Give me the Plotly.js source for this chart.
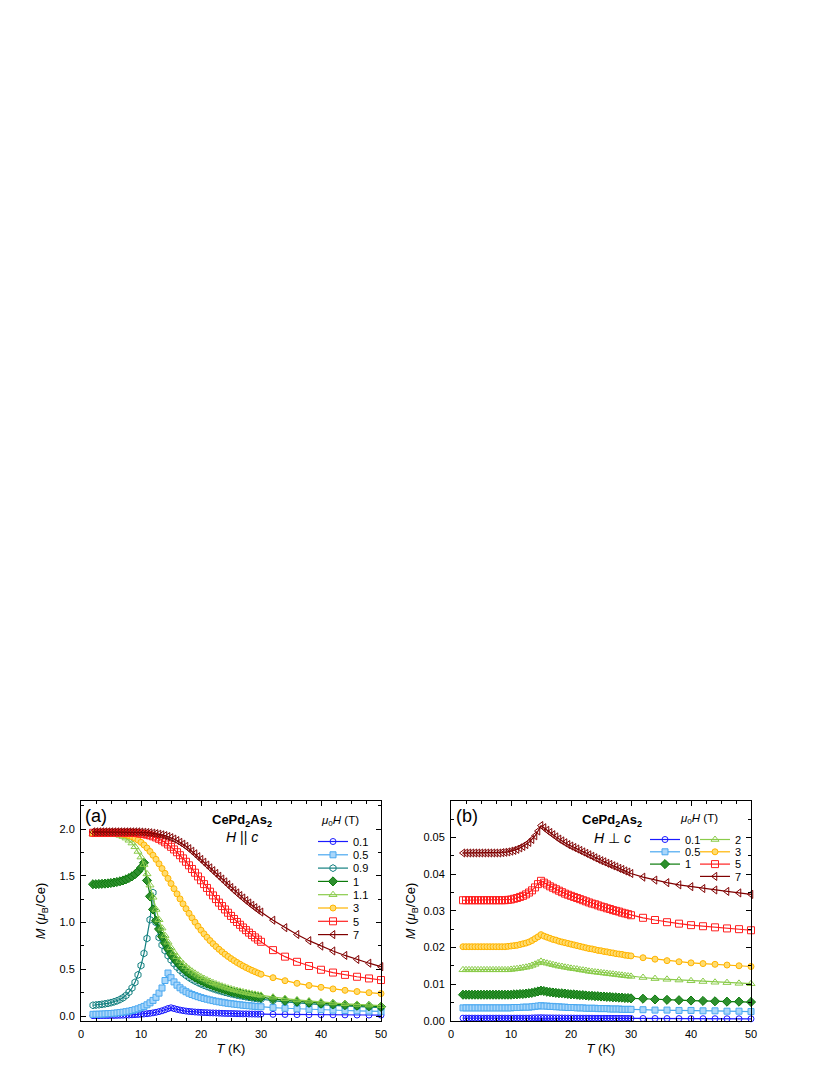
<!DOCTYPE html>
<html>
<head>
<meta charset="utf-8">
<script src="https://cdn.plot.ly/plotly-3.0.1.min.js"></script>
<style>
  html, body { margin: 0; padding: 0; background: #ffffff; }
  #grafico { width: 830px; height: 1075px; }
</style>
</head>
<body>
<div id="grafico"></div>
<script>
// --- 1. DATOS ---
// temperatura común: densa hasta 29.5 K, luego cada 2 K
const tempK = [2,2.5,3,3.5,4,4.5,5,5.5,6,6.5,7,7.5,8,8.5,9,9.5,10,10.5,11,11.5,12,12.5,13,13.5,14,14.5,
  15,15.5,16,16.5,17,17.5,18,18.5,19,19.5,20,20.5,21,21.5,22,22.5,23,23.5,24,24.5,25,25.5,26,26.5,27,27.5,28,28.5,29,29.5,
  30,32,34,36,38,40,42,44,46,48,50];

// (a) H || c
const camposA = ['0.1', '0.5', '0.9', '1', '1.1', '3', '5', '7'];
const mPar01 = [0.004,0.004,0.004,0.005,0.005,0.005,0.006,0.006,0.007,0.008,0.009,0.01,0.011,0.013,0.015,0.017,
  0.019,0.022,0.025,0.029,0.034,0.04,0.047,0.056,0.067,0.08,
  0.088,0.08,0.071,0.064,0.058,0.053,0.049,0.046,0.043,0.041,
  0.039,0.037,0.036,0.034,0.033,0.032,0.031,0.029,0.028,0.027,
  0.027,0.026,0.025,0.024,0.023,0.023,0.022,0.021,0.021,0.02,
  0.02,0.018,0.017,0.015,0.014,0.013,0.013,0.012,0.011,0.011,0.01];
const mPar05 = [0.018,0.019,0.02,0.021,0.023,0.025,0.027,0.03,0.033,0.037,0.041,0.046,0.052,0.059,0.067,0.077,
  0.089,0.103,0.12,0.141,0.167,0.2,0.245,0.3,0.38,0.46,
  0.41,0.365,0.33,0.302,0.279,0.26,0.244,0.23,0.218,0.207,
  0.197,0.188,0.18,0.172,0.165,0.158,0.152,0.147,0.141,0.136,
  0.132,0.128,0.124,0.12,0.116,0.113,0.11,0.107,0.104,0.101,
  0.099,0.09,0.083,0.077,0.072,0.067,0.063,0.059,0.056,0.053,0.05];
const mPar09 = [0.115,0.118,0.121,0.125,0.13,0.136,0.143,0.152,0.163,0.177,0.195,0.22,0.255,0.3,0.36,0.44,
  0.54,0.67,0.83,1.03,1.32,1.0,0.84,0.76,0.7,0.645,
  0.6,0.56,0.523,0.49,0.46,0.435,0.412,0.392,0.374,0.358,
  0.343,0.329,0.316,0.304,0.293,0.282,0.272,0.263,0.254,0.246,
  0.238,0.231,0.224,0.218,0.212,0.206,0.2,0.195,0.19,0.185,
  0.18,0.165,0.152,0.14,0.13,0.122,0.114,0.107,0.101,0.096,0.09];
const mPar1 = [1.41,1.41,1.412,1.414,1.416,1.419,1.423,1.428,1.434,1.441,1.45,1.462,1.476,1.494,1.516,1.545,
  1.585,1.64,1.45,1.28,1.14,1.02,0.93,0.85,0.78,0.72,
  0.665,0.62,0.58,0.543,0.51,0.482,0.457,0.435,0.415,0.397,
  0.38,0.365,0.35,0.337,0.324,0.312,0.301,0.291,0.281,0.272,
  0.263,0.255,0.247,0.24,0.233,0.227,0.221,0.215,0.21,0.205,
  0.2,0.183,0.168,0.156,0.145,0.135,0.127,0.119,0.112,0.106,0.1];
const mPar11 = [1.95,1.95,1.95,1.95,1.95,1.95,1.95,
  1.945,1.94,1.932,1.92,1.903,1.88,1.85,1.81,1.76,
  1.70,1.62,1.52,1.40,1.27,1.14,1.03,0.94,0.86,0.79,
  0.73,0.68,0.635,0.595,0.56,0.53,0.503,0.479,0.457,0.437,
  0.418,0.401,0.385,0.37,0.356,0.343,0.331,0.32,0.309,0.299,
  0.29,0.281,0.273,0.265,0.258,0.251,0.244,0.238,0.232,0.226,
  0.221,0.202,0.186,0.172,0.16,0.149,0.14,0.131,0.124,0.117,0.111];
const mPar3 = [1.95,1.95,1.95,1.95,1.95,1.95,1.95,1.95,1.95,
  1.948,1.944,1.938,1.93,1.918,1.902,1.882,
  1.858,1.83,1.797,1.76,1.72,1.676,1.628,1.578,1.526,1.472,
  1.417,1.362,1.307,1.253,1.2,1.148,1.098,1.05,1.004,0.96,
  0.918,0.879,0.842,0.807,0.774,0.743,0.714,0.687,0.661,0.637,
  0.614,0.593,0.573,0.554,0.536,0.519,0.503,0.488,0.474,0.46,
  0.447,0.41,0.378,0.35,0.327,0.307,0.29,0.275,0.262,0.25,0.24];
const mPar5 = [1.96,1.96,1.96,1.96,1.96,1.96,1.96,1.96,1.96,1.96,1.96,1.96,1.96,1.96,
  1.958,1.955,
  1.951,1.946,1.94,1.932,1.922,1.91,1.895,1.878,1.858,1.835,
  1.81,1.782,1.752,1.72,1.686,1.65,1.612,1.573,1.533,1.493,
  1.452,1.411,1.37,1.33,1.29,1.251,1.213,1.176,1.14,1.105,
  1.071,1.038,1.006,0.976,0.947,0.919,0.892,0.866,0.841,0.817,
  0.794,0.705,0.635,0.58,0.535,0.495,0.465,0.44,0.42,0.402,0.385];
const mPar7 = [1.97,1.97,1.97,1.97,1.97,1.97,1.97,1.97,1.97,1.97,1.97,1.97,1.97,1.97,1.97,1.97,
  1.968,1.966,1.963,1.96,1.956,1.951,1.945,1.938,1.93,1.92,
  1.908,1.893,1.877,1.858,1.838,1.815,1.79,1.763,1.735,1.705,
  1.675,1.645,1.615,1.585,1.555,1.525,1.495,1.465,1.435,1.405,
  1.375,1.345,1.317,1.289,1.262,1.235,1.209,1.184,1.159,1.135,
  1.112,1.025,0.945,0.872,0.806,0.748,0.696,0.648,0.605,0.565,0.528];

// (b) H perpendicular a c
const camposB = ['0.1', '0.5', '1', '2', '3', '5', '7'];
const mPerp01 = [0.0007,0.0007,0.0007,0.0007,0.0007,0.0007,0.0007,0.0007,0.0007,0.0007,0.0007,0.0007,
  0.0007,0.0007,0.0007,0.0007,0.0007,0.0007,0.0007,0.0007,0.0007,0.0007,0.0007,
  0.00075,0.00078,0.0008,0.00082,0.0008,0.00078,0.00077,
  0.00076,0.00075,0.00075,0.00074,0.00073,0.00072,0.00072,0.00071,0.0007,0.0007,0.00069,0.00069,0.00068,
  0.00068,0.00067,0.00067,0.00066,0.00066,0.00065,0.00065,0.00064,0.00064,0.00063,0.00063,0.00062,0.00062,
  0.00061,0.0006,0.00059,0.00058,0.00057,0.00056,0.00055,0.00054,0.00053,0.00052,0.00051];
const mPerp05 = [0.0035,0.0035,0.0035,0.0035,0.0035,0.0035,0.0035,0.0035,0.0035,0.0035,0.0035,0.0035,
  0.0035,0.0035,0.0035,0.0035,0.0035,
  0.0036,0.0036,0.0036,0.0037,0.0037,0.0037,0.0038,0.0039,0.004,
  0.0041,0.004,0.004,0.0039,0.0039,0.0038,0.0038,0.0037,0.0037,0.0036,
  0.0036,0.0036,0.0035,0.0035,0.0035,0.0034,0.0034,0.0034,0.0034,0.0033,
  0.0033,0.0033,0.0033,0.0032,0.0032,0.0032,0.0032,0.0031,0.0031,0.0031,
  0.0031,0.003,0.0029,0.0029,0.0028,0.0028,0.0027,0.0027,0.0026,0.0026,0.0025];
const mPerp1 = [0.0071,0.0071,0.0071,0.0071,0.0071,0.0071,0.0071,0.0071,0.0071,0.0071,0.0071,0.0071,
  0.0071,0.0071,0.0071,0.0071,0.0071,
  0.0072,0.0072,0.0073,0.0073,0.0074,0.0075,0.0076,0.0078,0.008,
  0.0082,0.0081,0.0079,0.0078,0.0077,0.0076,0.0075,0.0075,0.0074,0.0073,
  0.0072,0.0072,0.0071,0.007,0.007,0.0069,0.0068,0.0068,0.0067,0.0067,
  0.0066,0.0066,0.0065,0.0065,0.0064,0.0064,0.0063,0.0063,0.0062,0.0062,
  0.0061,0.006,0.0058,0.0057,0.0056,0.0055,0.0054,0.0053,0.0052,0.0052,0.0051];
const mPerp2 = [0.0139,0.0139,0.0139,0.0139,0.0139,0.0139,0.0139,0.0139,0.0139,0.0139,0.0139,0.0139,
  0.0139,0.0139,0.0139,0.0139,
  0.014,0.0141,0.0142,0.0143,0.0145,0.0146,0.0148,0.0151,0.0154,0.0158,
  0.0162,0.0159,0.0157,0.0155,0.0153,0.0151,0.0149,0.0148,0.0146,0.0145,
  0.0143,0.0142,0.0141,0.0139,0.0138,0.0137,0.0135,0.0134,0.0133,0.0132,
  0.0131,0.013,0.0129,0.0128,0.0127,0.0126,0.0125,0.0124,0.0123,0.0122,
  0.0121,0.0118,0.0115,0.0113,0.0111,0.0109,0.0107,0.0105,0.0104,0.0102,0.0101];
const mPerp3 = [0.0202,0.0202,0.0202,0.0202,0.0202,0.0202,0.0202,0.0202,0.0202,0.0202,0.0202,0.0202,
  0.0202,0.0202,0.0202,0.0203,
  0.0204,0.0205,0.0206,0.0208,0.021,0.0212,0.0215,0.0219,0.0224,0.0229,
  0.0235,0.0231,0.0228,0.0225,0.0222,0.022,0.0217,0.0215,0.0213,0.0211,
  0.0209,0.0207,0.0205,0.0203,0.0201,0.0199,0.0197,0.0196,0.0194,0.0192,
  0.0191,0.0189,0.0188,0.0186,0.0185,0.0183,0.0182,0.0181,0.0179,0.0178,
  0.0177,0.0172,0.0168,0.0164,0.0161,0.0158,0.0156,0.0154,0.0152,0.015,0.0148];
const mPerp5 = [0.0329,0.0329,0.0329,0.0329,0.0329,0.0329,0.0329,0.0329,0.0329,0.0329,0.0329,0.0329,
  0.0329,0.0329,0.0329,0.033,
  0.0331,0.0333,0.0335,0.0338,0.0341,0.0345,0.035,0.0356,0.0364,0.0373,
  0.0382,0.0377,0.0372,0.0367,0.0363,0.0359,0.0355,0.0351,0.0347,0.0344,
  0.0341,0.0338,0.0335,0.0332,0.0329,0.0326,0.0323,0.032,0.0318,0.0315,
  0.0312,0.031,0.0307,0.0305,0.0302,0.03,0.0298,0.0295,0.0293,0.0291,
  0.0288,0.0281,0.0275,0.0269,0.0265,0.0261,0.0258,0.0255,0.0252,0.025,0.0247];
const mPerp7 = [0.0458,0.0458,0.0458,0.0458,0.0458,0.0458,0.0458,0.0458,0.0458,0.0458,0.0458,0.0458,
  0.0458,0.0459,0.046,0.0461,
  0.0463,0.0465,0.0468,0.0472,0.0476,0.0481,0.0487,0.0495,0.0505,0.0518,
  0.0533,0.0527,0.052,0.0514,0.0508,0.0502,0.0496,0.0491,0.0486,0.0481,
  0.0477,0.0473,0.0469,0.0465,0.0461,0.0457,0.0453,0.0449,0.0445,0.0441,
  0.0437,0.0434,0.043,0.0427,0.0423,0.042,0.0416,0.0413,0.0409,0.0406,
  0.0402,0.0392,0.0384,0.0377,0.0371,0.0366,0.0361,0.0357,0.0353,0.0349,0.0345];

const seriesA = [mPar01, mPar05, mPar09, mPar1, mPar11, mPar3, mPar5, mPar7];
const seriesB = [mPerp01, mPerp05, mPerp1, mPerp2, mPerp3, mPerp5, mPerp7];

// --- 2. ESTILOS POR CAMPO ---
const estilos = {
  '0.1': { borde: '#1a1aff', relleno: null, simbolo: 'circle-open', tam: 6 },
  '0.5': { borde: '#4aa8f0', relleno: '#a9d6fa', simbolo: 'square', tam: 6 },
  '0.9': { borde: '#138080', relleno: null, simbolo: 'hexagon-open', tam: 7 },
  '1':   { borde: '#0b7a0b', relleno: '#2e8f2e', simbolo: 'diamond', tam: 7 },
  '1.1': { borde: '#8acb4a', relleno: null, simbolo: 'triangle-up-open', tam: 7 },
  '2':   { borde: '#8acb4a', relleno: null, simbolo: 'triangle-up-open', tam: 7 },
  '3':   { borde: '#ffb400', relleno: '#ffdc70', simbolo: 'circle', tam: 6 },
  '5':   { borde: '#ff2020', relleno: null, simbolo: 'square-open', tam: 7 },
  '7':   { borde: '#800000', relleno: null, simbolo: 'triangle-left-open', tam: 7 }
};

function serie(y, campo, ejeX, ejeY, leyenda) {
  const e = estilos[campo];
  return {
    x: tempK, y: y, name: campo, type: 'scatter', mode: 'lines+markers',
    xaxis: ejeX, yaxis: ejeY, legend: leyenda, cliponaxis: false,
    line: { color: e.borde, width: 1.2 },
    marker: { symbol: e.simbolo, size: e.tam, color: e.relleno || e.borde,
              line: { color: e.borde, width: 1 } }
  };
}

const trazos = [];
seriesA.forEach((y, i) => trazos.push(serie(y, camposA[i], 'x', 'y', 'legend')));
seriesB.forEach((y, i) => {
  const ley = i < 3 ? 'legend2' : 'legend3';
  trazos.push(serie(y, camposB[i], 'x2', 'y2', ley));
});

// --- 3. LAYOUT ---
const fuente = 'Liberation Sans, Arial, sans-serif';
const W = 830, H = 1075;
const px = v => v / W;
const py = v => 1 - v / H;

function ejeX(dom, ancla) {
  return {
    domain: dom, anchor: ancla, range: [0, 50], dtick: 10,
    ticks: 'inside', ticklen: 5, tickwidth: 1, tickcolor: '#000',
    minor: { dtick: 2.5, ticks: 'inside', ticklen: 3, tickcolor: '#000' },
    mirror: 'allticks', showline: true, linecolor: '#000', linewidth: 1,
    showgrid: false, zeroline: false, ticklabelstandoff: 3,
    tickfont: { family: fuente, size: 11, color: '#000' },
    title: { text: '<i>T</i> (K)', standoff: 4, font: { family: fuente, size: 13, color: '#000' } }
  };
}

const layout = {
  width: W, height: H,
  margin: { l: 0, r: 0, t: 0, b: 0 },
  paper_bgcolor: '#ffffff', plot_bgcolor: '#ffffff',
  font: { family: fuente, color: '#000' },
  xaxis: ejeX([px(81), px(381)], 'y'),
  xaxis2: ejeX([px(451), px(751)], 'y2'),
  yaxis: {
    domain: [py(1020.7), py(801)], anchor: 'x', range: [-0.05, 2.3],
    tickvals: [0, 0.5, 1, 1.5, 2], tickformat: '.1f',
    ticks: 'inside', ticklen: 5, tickcolor: '#000',
    minor: { dtick: 0.25, ticks: 'inside', ticklen: 3, tickcolor: '#000' },
    mirror: 'allticks', showline: true, linecolor: '#000', linewidth: 1,
    showgrid: false, zeroline: false, ticklabelstandoff: 3,
    tickfont: { family: fuente, size: 11, color: '#000' },
    title: { text: '<i>M</i> (<i>μ</i><sub>B</sub>/Ce)', standoff: 10, font: { family: fuente, size: 13, color: '#000' } }
  },
  yaxis2: {
    domain: [py(1020.7), py(801)], anchor: 'x2', range: [0, 0.06],
    tickvals: [0, 0.01, 0.02, 0.03, 0.04, 0.05], tickformat: '.2f',
    ticks: 'inside', ticklen: 5, tickcolor: '#000',
    minor: { dtick: 0.005, ticks: 'inside', ticklen: 3, tickcolor: '#000' },
    mirror: 'allticks', showline: true, linecolor: '#000', linewidth: 1,
    showgrid: false, zeroline: false, ticklabelstandoff: 3,
    tickfont: { family: fuente, size: 11, color: '#000' },
    title: { text: '<i>M</i> (<i>μ</i><sub>B</sub>/Ce)', standoff: 4, font: { family: fuente, size: 13, color: '#000' } }
  },
  legend: {
    x: px(313), y: py(827), xanchor: 'left', yanchor: 'top',
    bgcolor: 'rgba(0,0,0,0)', borderwidth: 0, itemwidth: 30, tracegroupgap: 0,
    font: { family: fuente, size: 11, color: '#000' }
  },
  legend2: {
    x: px(645), y: py(825), xanchor: 'left', yanchor: 'top',
    bgcolor: 'rgba(0,0,0,0)', borderwidth: 0, itemwidth: 30, tracegroupgap: 0,
    font: { family: fuente, size: 11, color: '#000' }
  },
  legend3: {
    x: px(695), y: py(825), xanchor: 'left', yanchor: 'top',
    bgcolor: 'rgba(0,0,0,0)', borderwidth: 0, itemwidth: 30, tracegroupgap: 0,
    font: { family: fuente, size: 11, color: '#000' }
  },
  annotations: [
    { text: '(a)', x: px(83), y: py(816), xanchor: 'left', yanchor: 'middle', font: { size: 18 } },
    { text: '<b>CePd<sub>2</sub>As<sub>2</sub></b>', x: px(242), y: py(820), xanchor: 'center', yanchor: 'middle', font: { size: 13 } },
    { text: '<i>H</i> || <i>c</i>', x: px(242), y: py(837), xanchor: 'center', yanchor: 'middle', font: { size: 14 } },
    { text: '<i>μ</i><sub>0</sub><i>H</i> (T)', x: px(340), y: py(821), xanchor: 'center', yanchor: 'middle', font: { size: 11.5 } },
    { text: '(b)', x: px(454), y: py(816), xanchor: 'left', yanchor: 'middle', font: { size: 18 } },
    { text: '<b>CePd<sub>2</sub>As<sub>2</sub></b>', x: px(612), y: py(820), xanchor: 'center', yanchor: 'middle', font: { size: 13 } },
    { text: '<i>H</i> ⊥ <i>c</i>', x: px(612), y: py(838), xanchor: 'center', yanchor: 'middle', font: { size: 14 } },
    { text: '<i>μ</i><sub>0</sub><i>H</i> (T)', x: px(699), y: py(819), xanchor: 'center', yanchor: 'middle', font: { size: 11.5 } }
  ].map(a => Object.assign({ xref: 'paper', yref: 'paper', showarrow: false }, a))
};

// --- 4. LEYENDAS MÁS COMPACTAS (como en la figura original) ---
function apretarLeyenda(id, paso) {
  const items = document.querySelectorAll('.' + id + ' g.traces');
  if (!items.length) return;
  const leer = el => {
    const m = /translate\(\s*([-\d.e]+)[\s,]+([-\d.e]+)\s*\)/.exec(el.getAttribute('transform') || '');
    return m ? [parseFloat(m[1]), parseFloat(m[2])] : [0, 0];
  };
  const y0 = leer(items[0])[1];
  items.forEach((el, i) => {
    const p = leer(el);
    el.setAttribute('transform', 'translate(' + p[0] + ',' + (y0 + i * paso) + ')');
  });
}

Plotly.newPlot('grafico', trazos, layout, { staticPlot: true }).then(() => {
  try {
    apretarLeyenda('legend', 13.3);
    apretarLeyenda('legend2', 12.3);
    apretarLeyenda('legend3', 12.3);
  } catch (e) {
    console.error('No se pudo ajustar la leyenda:', e);
  }
});
</script>
</body>
</html>
